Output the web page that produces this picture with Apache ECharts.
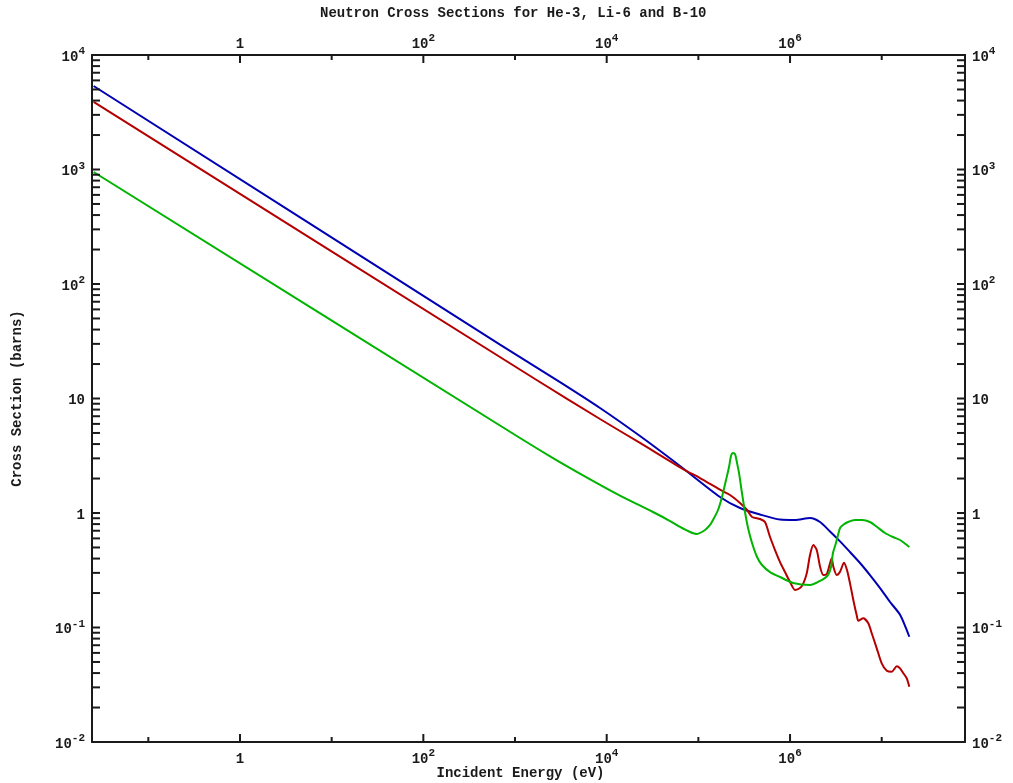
<!DOCTYPE html>
<html><head><meta charset="utf-8">
<script src="https://cdn.jsdelivr.net/npm/echarts@6/dist/echarts.min.js"></script>
<style>html,body{margin:0;padding:0;background:#fff}#c{width:1013px;height:783px}</style>
</head><body><div id="c"></div>
<script>
// ---- data (incident energy in eV, cross section in barns) ----
const energyHe3 = [0.0253, 686, 3096, 8453, 23090, 63100, 172200, 284700, 470700, 777800, 1.133e6, 1.652e6, 2.125e6, 2.73e6, 3.51e6, 4.51e6, 5.80e6, 7.45e6, 9.59e6, 1.233e7, 1.585e7, 2.0e7];
const sigmaHe3  = [5360, 29.6, 13.9, 8.26, 4.70, 2.574, 1.38, 1.106, 0.97, 0.877, 0.869, 0.904, 0.834, 0.69, 0.565, 0.456, 0.366, 0.287, 0.221, 0.167, 0.129, 0.083];

const energyB10 = [0.0253, 1652, 8453, 23090, 68040, 104200, 172200, 221500, 284700, 339600, 385000, 470700, 533400, 605000, 685800, 777800, 881700, 1.0e6, 1.133e6, 1.284e6, 1.396e6, 1.521e6, 1.652e6, 1.795e6, 1.955e6, 2.125e6, 2.31e6, 2.512e6, 2.73e6, 2.85e6, 2.965e6, 3.23e6, 3.51e6, 3.88e6, 4.18e6, 4.51e6, 4.90e6, 5.33e6, 5.56e6, 6.30e6, 7.14e6, 7.78e6, 8.83e6, 1.0e7, 1.135e7, 1.285e7, 1.459e7, 1.585e7, 1.722e7, 1.875e7, 2.0e7];
const sigmaB10  = [3890, 14.8, 6.62, 4.09, 2.42, 2.02, 1.60, 1.436, 1.223, 1.062, 0.923, 0.886, 0.834, 0.617, 0.475, 0.373, 0.305, 0.25, 0.213, 0.221, 0.243, 0.297, 0.430, 0.525, 0.475, 0.340, 0.287, 0.293, 0.364, 0.402, 0.340, 0.287, 0.307, 0.368, 0.318, 0.243, 0.174, 0.1285, 0.1147, 0.1203, 0.1088, 0.0890, 0.0658, 0.0486, 0.0419, 0.0411, 0.0458, 0.0440, 0.0398, 0.0360, 0.0304];

const energyLi6 = [0.0253, 1133, 2597, 6100, 13960, 32010, 49090, 63100, 81100, 96600, 118200, 133900, 144400, 163800, 181100, 200300, 216000, 227000, 238600, 251200, 265000, 277500, 299100, 322500, 348200, 385000, 436400, 494400, 605000, 777800, 1.079e6, 1.652e6, 2.125e6, 2.41e6, 2.60e6, 2.80e6, 2.94e6, 3.17e6, 3.34e6, 3.51e6, 3.78e6, 4.29e6, 5.11e6, 6.10e6, 7.45e6, 8.89e6, 1.087e7, 1.328e7, 1.585e7, 2.0e7];
const sigmaLi6  = [951, 4.52, 3.02, 2.04, 1.42, 1.02, 0.851, 0.755, 0.683, 0.656, 0.710, 0.786, 0.869, 1.062, 1.38, 1.94, 2.52, 3.15, 3.34, 3.27, 2.70, 2.24, 1.495, 1.02, 0.740, 0.547, 0.413, 0.3515, 0.305, 0.276, 0.245, 0.235, 0.255, 0.271, 0.287, 0.3375, 0.447, 0.547, 0.642, 0.740, 0.786, 0.834, 0.869, 0.869, 0.834, 0.755, 0.669, 0.617, 0.581, 0.505];

// ---- axes / ticks ----
const xMin = 0.0243, xMax = 8.1e7;
const yMin = 0.01, yMax = 1e4;
const xLabelExponents = [0, 2, 4, 6];
const yLabelExponents = [-2, -1, 0, 1, 2, 3, 4];
const xTickMajor = [1, 1e2, 1e4, 1e6];
const xTickMinor = [1e-1, 1e1, 1e3, 1e5, 1e7];
const yDecades = [1e-2, 1e-1, 1, 10, 1e2, 1e3];
const yMinorMultipliers = [2, 3, 4, 5, 6, 7, 8, 9];

const FONT = 'Liberation Mono';
const INK = '#1a1a1a';

function zip(a, b) { return a.map((v, i) => [v, b[i]]); }

function powLabel(v, allowed) {
  const lg = Math.log10(v);
  const e = Math.round(lg);
  if (Math.abs(lg - e) > 1e-6) return '';
  if (allowed.indexOf(e) < 0) return '';
  if (e === 0) return '{b|1}';
  if (e === 1) return '{b|10}';
  return '{b|10}{s|' + e + '}';
}
const richLabel = {
  b: { fontFamily: FONT, fontWeight: 'bold', fontSize: 14, color: INK, lineHeight: 18, verticalAlign: 'bottom' },
  s: { fontFamily: FONT, fontWeight: 'bold', fontSize: 11, color: INK, lineHeight: 10, verticalAlign: 'top' }
};

const xTicks = xTickMajor.map(v => [v, 1, 8]).concat(xTickMinor.map(v => [v, 1, 5]));
const yTicks = [];
yDecades.forEach(d => {
  yTicks.push([1, d]);
  yMinorMultipliers.forEach(m => yTicks.push([1, d * m]));
});
yTicks.push([1, 1e4]);

const tickStyle = { stroke: INK, lineWidth: 2 };

const chart = echarts.init(document.getElementById('c'), null, { renderer: 'canvas' });
const axisLineStyle = { show: true, lineStyle: { color: INK, width: 2 } };

chart.setOption({
  animation: false,
  backgroundColor: '#fff',
  title: {
    text: 'Neutron Cross Sections for He-3, Li-6 and B-10',
    left: 320, top: 6, padding: 0,
    textStyle: { fontFamily: FONT, fontWeight: 'bold', fontSize: 14, color: INK }
  },
  grid: { left: 92, right: 48, top: 55, bottom: 41, containLabel: false, outerBoundsMode: 'none' },
  xAxis: [
    {
      type: 'log', min: xMin, max: xMax, position: 'bottom',
      name: 'Incident Energy (eV)', nameLocation: 'middle', nameGap: 24, nameMoveOverlap: false,
      nameTextStyle: { fontFamily: FONT, fontWeight: 'bold', fontSize: 14, color: INK, padding: [0, 16, 0, 0] },
      axisLine: axisLineStyle, axisTick: { show: false }, splitLine: { show: false },
      axisLabel: { margin: 6, formatter: v => powLabel(v, xLabelExponents), rich: richLabel, showMinLabel: false, showMaxLabel: false }
    },
    {
      type: 'log', min: xMin, max: xMax, position: 'top',
      axisLine: axisLineStyle, axisTick: { show: false }, splitLine: { show: false },
      axisLabel: { margin: 4, formatter: v => powLabel(v, xLabelExponents), rich: richLabel, showMinLabel: false, showMaxLabel: false }
    }
  ],
  yAxis: [
    {
      type: 'log', min: yMin, max: yMax, position: 'left',
      name: 'Cross Section (barns)', nameLocation: 'middle', nameGap: 68, nameRotate: 90, nameMoveOverlap: false,
      nameTextStyle: { fontFamily: FONT, fontWeight: 'bold', fontSize: 14, color: INK },
      axisLine: axisLineStyle, axisTick: { show: false }, splitLine: { show: false },
      axisLabel: { margin: 7, formatter: v => powLabel(v, yLabelExponents), rich: richLabel }
    },
    {
      type: 'log', min: yMin, max: yMax, position: 'right',
      axisLine: axisLineStyle, axisTick: { show: false }, splitLine: { show: false },
      axisLabel: { margin: 7, formatter: v => powLabel(v, yLabelExponents), rich: richLabel }
    }
  ],
  series: [
    {
      name: 'He-3', type: 'line', data: zip(energyHe3, sigmaHe3), showSymbol: false, smooth: 0.25,
      lineStyle: { color: '#0000b4', width: 2 }, itemStyle: { color: '#0000b4' }, z: 3
    },
    {
      name: 'B-10', type: 'line', data: zip(energyB10, sigmaB10), showSymbol: false, smooth: 0.25,
      lineStyle: { color: '#b40000', width: 2 }, itemStyle: { color: '#b40000' }, z: 3
    },
    {
      name: 'Li-6', type: 'line', data: zip(energyLi6, sigmaLi6), showSymbol: false, smooth: 0.25,
      lineStyle: { color: '#00b400', width: 2 }, itemStyle: { color: '#00b400' }, z: 3
    },
    {
      type: 'custom', silent: true, z: 5, clip: false,
      encode: { x: 0, y: 1 },
      data: xTicks,
      renderItem: function (params, api) {
        const cs = params.coordSys;
        const x = api.coord([api.value(0), 1])[0];
        const len = api.value(2);
        const bottom = cs.y + cs.height, top = cs.y;
        return { type: 'group', children: [
          { type: 'line', shape: { x1: x, y1: bottom, x2: x, y2: bottom - len }, style: tickStyle },
          { type: 'line', shape: { x1: x, y1: top, x2: x, y2: top + len }, style: tickStyle }
        ] };
      }
    },
    {
      type: 'custom', silent: true, z: 5, clip: false,
      encode: { x: 0, y: 1 },
      data: yTicks,
      renderItem: function (params, api) {
        const cs = params.coordSys;
        const y = api.coord([1, api.value(1)])[1];
        const left = cs.x, right = cs.x + cs.width;
        return { type: 'group', children: [
          { type: 'line', shape: { x1: left, y1: y, x2: left + 8, y2: y }, style: tickStyle },
          { type: 'line', shape: { x1: right - 8, y1: y, x2: right, y2: y }, style: tickStyle }
        ] };
      }
    }
  ]
});
</script>
</body></html>
